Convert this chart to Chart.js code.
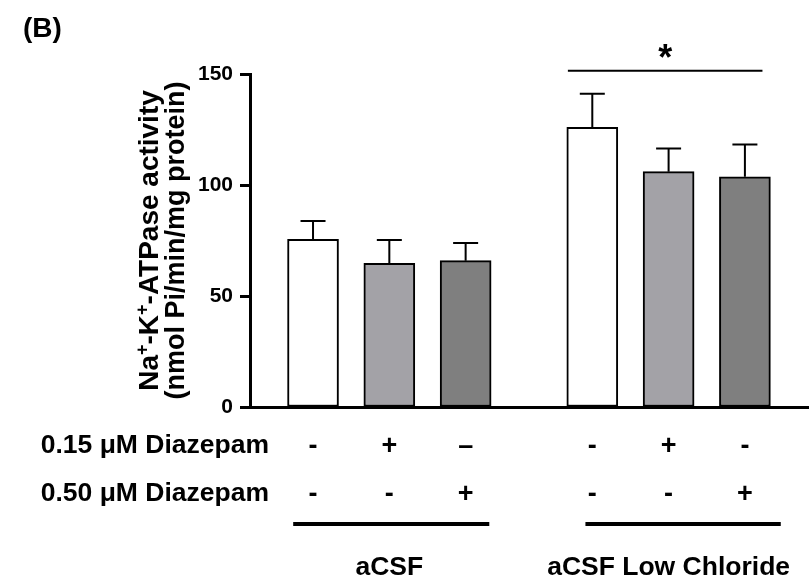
<!DOCTYPE html>
<html>
<head>
<meta charset="utf-8">
<script src="https://cdn.jsdelivr.net/npm/chart.js"></script>
<style>
  body { margin: 0; background: #fff; }
  canvas { display: block; }
</style>
</head>
<body>
<canvas id="chart" width="809" height="587"></canvas>
<script>
// values
const groups = ["aCSF", "aCSF Low Chloride"];
const barX = [1, 2, 3, 4.66, 5.66, 6.66];
const means = [75.5, 64.7, 65.9, 126.0, 106.0, 103.7];
const sems = [8.3, 10.5, 8.0, 15.1, 10.4, 14.5];
const barColors = ["#ffffff", "#a3a2a7", "#7f7f7f", "#ffffff", "#a3a2a7", "#7f7f7f"];
const rowLabels = ["0.15 \u03bcM Diazepam", "0.50 \u03bcM Diazepam"];
const dose015 = ["-", "+", "\u2013", "-", "+", "-"];
const dose050 = ["-", "-", "+", "-", "-", "+"];
const groupSpan = [[0.74, 3.31], [4.57, 7.13]];
const sigSpan = [4.34, 6.89];
const sigLevel = 151.5;

const FONT = "'Liberation Sans', Arial, sans-serif";

const extras = {
  id: "extras",
  afterDraw(chart) {
    const ctx = chart.ctx;
    const xs = chart.scales.x;
    const ys = chart.scales.y;
    ctx.save();
    ctx.strokeStyle = "#000";
    ctx.fillStyle = "#000";

    // error bars (upper only)
    ctx.lineWidth = 2;
    means.forEach((m, i) => {
      const x = xs.getPixelForValue(barX[i]);
      const y0 = ys.getPixelForValue(m);
      const y1 = ys.getPixelForValue(m + sems[i]);
      ctx.beginPath();
      ctx.moveTo(x, y0);
      ctx.lineTo(x, y1);
      ctx.moveTo(x - 12.5, y1);
      ctx.lineTo(x + 12.5, y1);
      ctx.stroke();
    });

    // significance line + star
    const sy = ys.getPixelForValue(sigLevel);
    const sx0 = xs.getPixelForValue(sigSpan[0]);
    const sx1 = xs.getPixelForValue(sigSpan[1]);
    ctx.beginPath();
    ctx.moveTo(sx0, sy);
    ctx.lineTo(sx1, sy);
    ctx.stroke();
    ctx.font = "bold 36px " + FONT;
    ctx.textAlign = "center";
    ctx.textBaseline = "alphabetic";
    ctx.fillText("*", (sx0 + sx1) / 2, sy - 1);

    // panel letter
    ctx.textAlign = "left";
    ctx.font = "bold 28px " + FONT;
    ctx.fillText("(B)", 23, 37);

    // treatment rows
    ctx.font = "bold 26.5px " + FONT;
    ctx.textAlign = "right";
    ctx.fillText(rowLabels[0], 269, 453);
    ctx.fillText(rowLabels[1], 269, 501);
    ctx.textAlign = "center";
    ctx.textBaseline = "middle";
    ctx.font = "bold 27px " + FONT;
    dose015.forEach((s, i) => ctx.fillText(s, xs.getPixelForValue(barX[i]), 447));
    dose050.forEach((s, i) => ctx.fillText(s, xs.getPixelForValue(barX[i]), 495));

    // group lines and names
    ctx.lineWidth = 4;
    groupSpan.forEach(g => {
      ctx.beginPath();
      ctx.moveTo(xs.getPixelForValue(g[0]), 524);
      ctx.lineTo(xs.getPixelForValue(g[1]), 524);
      ctx.stroke();
    });
    ctx.textBaseline = "alphabetic";
    ctx.font = "bold 26.5px " + FONT;
    ctx.fillText(groups[0], xs.getPixelForValue(barX[1]), 575);
    ctx.fillText(groups[1], xs.getPixelForValue(barX[4]), 575);

    // y axis title, two lines, with superscripts
    const cy = (ys.top + ys.bottom) / 2;
    const parts = [["Na", 0], ["+", 1], ["-K", 0], ["+", 1], ["-ATPase activity", 0]];
    ctx.save();
    ctx.translate(158, cy);
    ctx.rotate(-Math.PI / 2);
    ctx.textAlign = "left";
    let total = 0;
    parts.forEach(p => {
      ctx.font = "bold " + (p[1] ? 18 : 28) + "px " + FONT;
      total += ctx.measureText(p[0]).width;
    });
    let px = -total / 2;
    parts.forEach(p => {
      ctx.font = "bold " + (p[1] ? 18 : 28) + "px " + FONT;
      ctx.fillText(p[0], px, p[1] ? -10 : 0);
      px += ctx.measureText(p[0]).width;
    });
    ctx.restore();
    ctx.save();
    ctx.translate(184, cy);
    ctx.rotate(-Math.PI / 2);
    ctx.textAlign = "center";
    ctx.font = "bold 27px " + FONT;
    ctx.fillText("(nmol Pi/min/mg protein)", 0, 0);
    ctx.restore();

    ctx.restore();
  }
};

new Chart(document.getElementById("chart"), {
  type: "bar",
  data: {
    datasets: [
      {
        data: barX.map((x, i) => ({ x: x, y: means[i] })),
        backgroundColor: barColors,
        borderColor: "#000",
        borderWidth: 2,
        borderSkipped: false,
        barThickness: 51,
      },
    ],
  },
  options: {
    responsive: false,
    animation: false,
    layout: { padding: { top: 74, bottom: 180, left: 0, right: 0 } },
    plugins: { legend: { display: false }, tooltip: { enabled: false } },
    scales: {
      x: {
        type: "linear",
        offset: false,
        min: 0.174,
        max: 7.5,
        grid: { display: false },
        ticks: { display: false },
        border: { display: true, color: "#000", width: 3 },
        afterFit(scale) { scale.height = 0; },
      },
      y: {
        min: 0,
        max: 150,
        ticks: {
          stepSize: 50,
          color: "#000",
          padding: 7,
          font: { family: FONT, size: 21, weight: "bold" },
        },
        grid: {
          drawOnChartArea: false,
          tickLength: 10,
          tickColor: "#000",
          tickWidth: 3,
        },
        border: { display: true, color: "#000", width: 3 },
        afterFit(scale) { scale.width = 250; },
      },
    },
  },
  plugins: [extras],
});
</script>
</body>
</html>
